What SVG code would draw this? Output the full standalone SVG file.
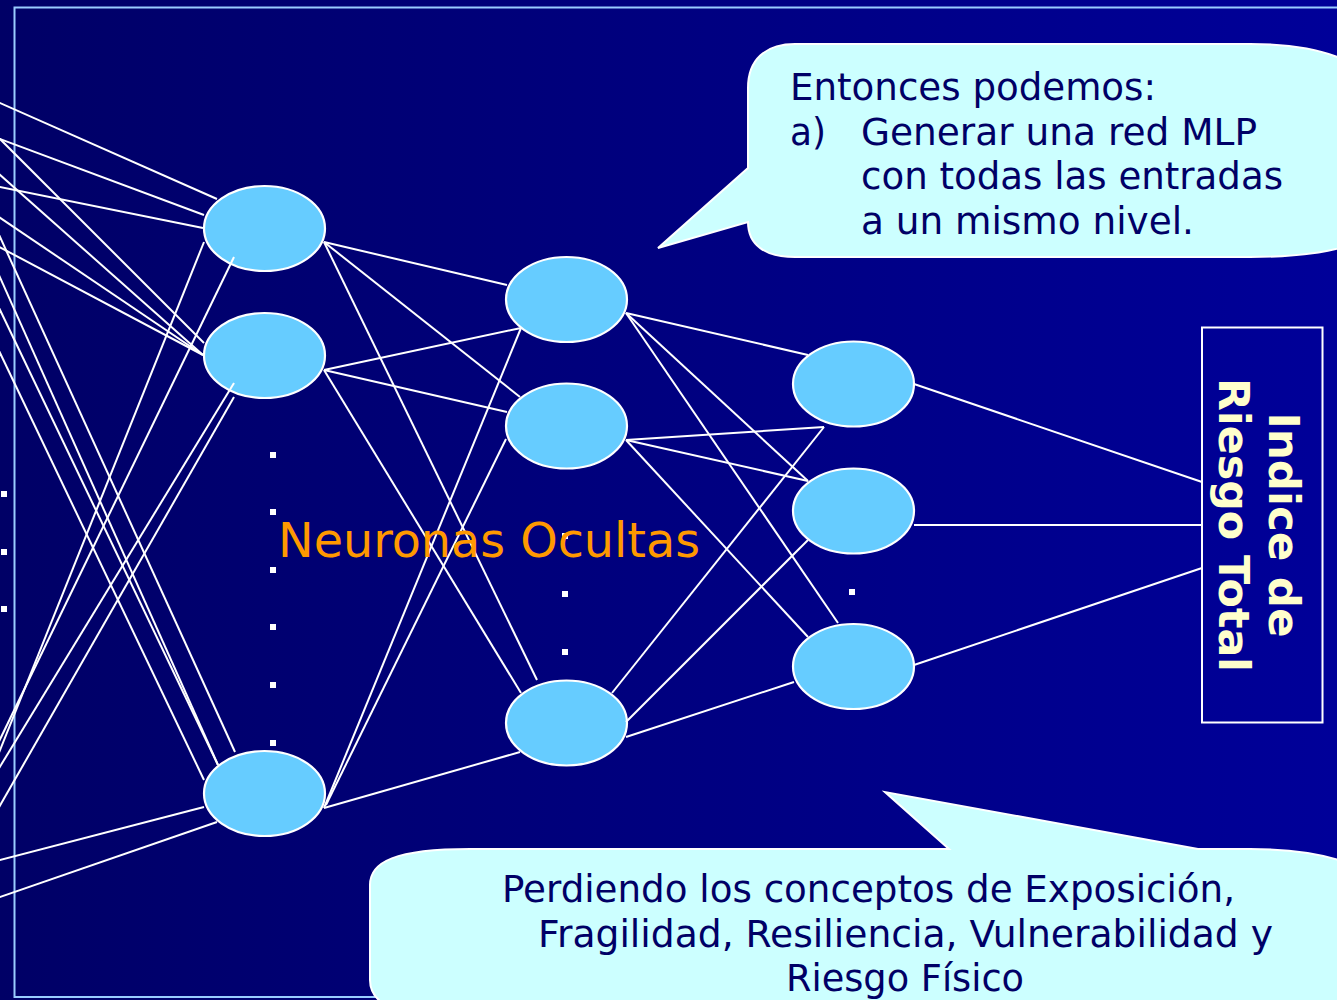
<svg xmlns="http://www.w3.org/2000/svg" width="1337" height="1000" viewBox="0 0 1337 1000">
<defs>
<linearGradient id="bg" x1="0" y1="0" x2="1" y2="0">
<stop offset="0" stop-color="#000066"/>
<stop offset="1" stop-color="#000099"/>
</linearGradient>
</defs>
<style>
.node{fill:#66CCFF;stroke:#FFFFFF;stroke-width:2.2}
.c line{stroke:#FFFFFF;stroke-width:2;fill:none}
.dot{fill:#FFFFFF}
.callout{fill:#CCFFFF;stroke:#FFFFFF;stroke-width:2}
.ct{font-family:"DejaVu Sans",Verdana,sans-serif;font-size:37px;fill:#000066}
.box{fill:none;stroke:#FFFFFF;stroke-width:2}
.bt{font-family:"DejaVu Sans",Verdana,sans-serif;font-size:42px;font-weight:bold;fill:#FFFFCC;text-anchor:middle}
</style>
<rect x="0" y="0" width="1337" height="1000" fill="url(#bg)"/>
<rect x="14.5" y="7.5" width="1400" height="989.5" fill="none" stroke="#99CCFF" stroke-width="2"/>

<g id="dots">
<rect class="dot" x="1" y="491" width="6" height="6"/>
<rect class="dot" x="1" y="549" width="6" height="6"/>
<rect class="dot" x="1" y="606" width="6" height="6"/>
<rect class="dot" x="270" y="452" width="6" height="6"/>
<rect class="dot" x="270" y="509" width="6" height="6"/>
<rect class="dot" x="270" y="567" width="6" height="6"/>
<rect class="dot" x="270" y="624" width="6" height="6"/>
<rect class="dot" x="270" y="682" width="6" height="6"/>
<rect class="dot" x="270" y="740" width="6" height="6"/>
<rect class="dot" x="562" y="533" width="6" height="6"/>
<rect class="dot" x="562" y="591" width="6" height="6"/>
<rect class="dot" x="562" y="649" width="6" height="6"/>
<rect class="dot" x="849" y="589" width="6" height="6"/>
</g>

<g id="n1"><ellipse class="node" cx="264.5" cy="228.5" rx="60.5" ry="42.5"/></g>
<g id="n2"><ellipse class="node" cx="264.5" cy="355.5" rx="60.5" ry="42.5"/></g>
<g id="n3"><ellipse class="node" cx="264.5" cy="793.5" rx="60.5" ry="42.5"/></g>
<g id="m1"><ellipse class="node" cx="566.5" cy="299.5" rx="60.5" ry="42.5"/></g>
<g id="m2"><ellipse class="node" cx="566.5" cy="426" rx="60.5" ry="42.5"/></g>
<g id="m3"><ellipse class="node" cx="566.5" cy="723" rx="60.5" ry="42.5"/></g>
<g id="o1"><ellipse class="node" cx="853.5" cy="384" rx="60.5" ry="42.5"/></g>
<g id="o2"><ellipse class="node" cx="853.5" cy="511" rx="60.5" ry="42.5"/></g>
<g id="o3"><ellipse class="node" cx="853.5" cy="666.5" rx="60.5" ry="42.5"/></g>

<g id="connectors" class="c">
<line x1="-10" y1="98.6" x2="217" y2="199"/>
<line x1="-10" y1="135.3" x2="204" y2="215"/>
<line x1="-10" y1="129" x2="204" y2="343"/>
<line x1="-10" y1="166" x2="203" y2="355"/>
<line x1="-10" y1="185" x2="203" y2="228"/>
<line x1="-10" y1="211" x2="203" y2="355"/>
<line x1="-10" y1="242" x2="203" y2="355"/>
<line x1="-10" y1="332" x2="204" y2="780"/>
<line x1="-10" y1="289" x2="218" y2="765"/>
<line x1="-10" y1="255" x2="218" y2="765"/>
<line x1="-10" y1="215" x2="235" y2="752"/>
<line x1="204" y1="242" x2="-10" y2="775"/>
<line x1="234" y1="257" x2="-10" y2="760"/>
<line x1="234" y1="383" x2="-10" y2="783"/>
<line x1="234" y1="397" x2="-10" y2="823"/>
<line x1="-10" y1="862.6" x2="204" y2="807"/>
<line x1="-10" y1="900.5" x2="217" y2="822"/>

<line x1="324" y1="242" x2="507" y2="285"/>
<line x1="324" y1="242" x2="520" y2="397"/>
<line x1="324" y1="242" x2="537" y2="680"/>
<line x1="324" y1="370" x2="521" y2="328"/>
<line x1="324" y1="370" x2="507" y2="412"/>
<line x1="324" y1="370" x2="521" y2="693"/>
<line x1="324" y1="808" x2="521" y2="328"/>
<line x1="326" y1="805" x2="506" y2="439"/>
<line x1="324" y1="808" x2="520" y2="752"/>

<line x1="626" y1="313" x2="808" y2="355"/>
<line x1="626" y1="313" x2="808" y2="481"/>
<line x1="626" y1="313" x2="838" y2="623"/>
<line x1="626" y1="440" x2="824" y2="427"/>
<line x1="626" y1="440" x2="808" y2="481"/>
<line x1="626" y1="440" x2="808" y2="637"/>
<line x1="612" y1="693" x2="824" y2="427"/>
<line x1="626" y1="722" x2="808" y2="540"/>
<line x1="626" y1="737" x2="794" y2="682"/>

<line x1="914" y1="384" x2="1202" y2="482"/>
<line x1="914" y1="525" x2="1202" y2="525"/>
<line x1="914" y1="665" x2="1202" y2="568"/>
</g>

<text x="278" y="557" font-family="DejaVu Sans, Verdana, sans-serif" font-size="47.5" fill="#FF9900" textLength="422" lengthAdjust="spacingAndGlyphs">Neuronas Ocultas</text>

<g id="output">
<rect class="box" x="1202" y="327.5" width="120.5" height="395"/>
<text class="bt" transform="translate(1269,525) rotate(90)" x="0" y="0" textLength="225" lengthAdjust="spacingAndGlyphs">Indice de</text>
<text class="bt" transform="translate(1219,525) rotate(90)" x="0" y="0" textLength="294" lengthAdjust="spacingAndGlyphs">Riesgo Total</text>
</g>

<g id="callout-top">
<path class="callout" d="M795,44 L1250,44 C1300,44 1337,52 1362,70 L1362,240 C1337,252 1300,257 1250,257 L795,257 C765,257 748,245 748,222 L658,248 L748,168 L748,88 C748,60 765,44 795,44 Z"/>
<text class="ct" x="790" y="100" textLength="366" lengthAdjust="spacingAndGlyphs">Entonces podemos:</text>
<text class="ct" x="790" y="144.5" textLength="36" lengthAdjust="spacingAndGlyphs">a)</text>
<text class="ct" x="861" y="144.5" textLength="396" lengthAdjust="spacingAndGlyphs">Generar una red MLP</text>
<text class="ct" x="861" y="189" textLength="422" lengthAdjust="spacingAndGlyphs">con todas las entradas</text>
<text class="ct" x="861" y="233.5" textLength="333" lengthAdjust="spacingAndGlyphs">a un mismo nivel.</text>
</g>

<g id="callout-bottom">
<path class="callout" d="M370,885 C370,862 395,849 470,849 L949,849 L885,792 L1198,849 L1250,849 C1300,849 1337,856 1362,870 L1362,1012 L400,1012 C380,1005 370,995 370,980 Z"/>
<text class="ct" x="502" y="902" textLength="733" lengthAdjust="spacingAndGlyphs">Perdiendo los conceptos de Exposición,</text>
<text class="ct" x="538" y="947" textLength="735" lengthAdjust="spacingAndGlyphs">Fragilidad, Resiliencia, Vulnerabilidad y</text>
<text class="ct" x="786" y="991" textLength="238" lengthAdjust="spacingAndGlyphs">Riesgo Físico</text>
</g>
</svg>
